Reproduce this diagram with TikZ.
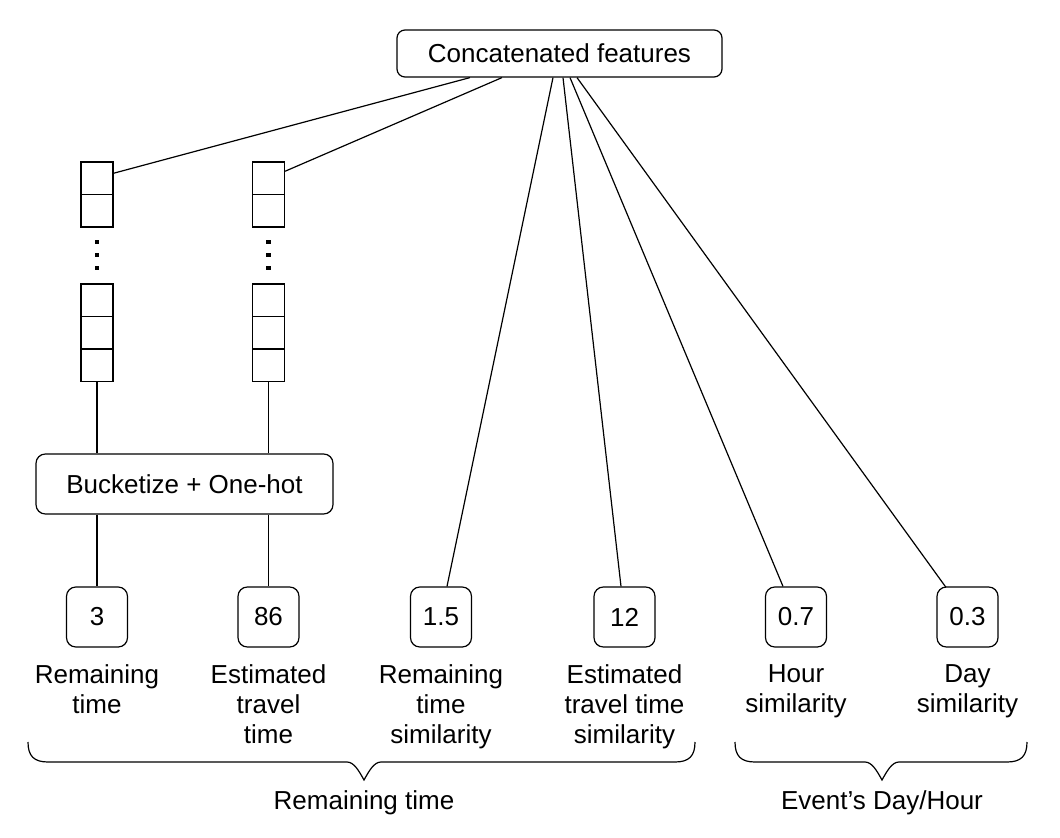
\documentclass[tikz,border=0pt]{standalone}
\usepackage{fontspec}
\setmainfont{Liberation Sans}
\usetikzlibrary{calc}
\newcommand\lblfont{\fontsize{19.5}{22.5}\selectfont}
\begin{document}
\begin{tikzpicture}[x=0.75pt,y=-0.75pt,line width=0.9pt,
  rbox/.style={draw, rounded corners=7pt, inner sep=0pt, font=\lblfont},
  valbox/.style={rbox, minimum width=45.75pt, minimum height=45pt},
  cell/.style={draw, inner sep=0pt, minimum width=24pt, minimum height=24.4pt},
  lab/.style={anchor=north, align=center, inner sep=0pt, font=\lblfont},
  dot/.style={fill=black}]
\useasboundingbox (0,0) rectangle (1060,838);

% top box
\node[rbox, rounded corners=6pt, minimum width=243.75pt, minimum height=35.25pt] (top) at (559.5,53.5) {Concatenated features};

% vectors column 1
\node[cell] (a1) at (97,178.25) {};
\node[cell] (a2) at (97,210.75) {};
\node[cell] (a3) at (97,300.25) {};
\node[cell] (a4) at (97,332.75) {};
\node[cell] (a5) at (97,365.25) {};
% vectors column 2
\node[cell] (b1) at (268.5,178.25) {};
\node[cell] (b2) at (268.5,210.75) {};
\node[cell] (b3) at (268.5,300.25) {};
\node[cell] (b4) at (268.5,332.75) {};
\node[cell] (b5) at (268.5,365.25) {};
% dots
\foreach \yy in {242,255,268} {
  \fill[dot] (97-2.25,\yy-2.25) rectangle ++(4.5,4.5);
  \fill[dot] (268.5-2.25,\yy-2.25) rectangle ++(4.5,4.5);
}

% bucketize
\node[rbox, minimum width=222.75pt, minimum height=45pt] (bk) at (184.5,484) {Bucketize + One-hot};

% value boxes
\node[valbox] (v3)  at (97,617)    {3};
\node[valbox] (v86) at (268.5,617) {86};
\node[valbox] (v15) at (441,617)   {1.5};
\node[valbox] (v12) at (624.5,617) {12};
\node[valbox] (v07) at (796,617)   {0.7};
\node[valbox] (v03) at (967.5,617) {0.3};

% labels
\node[lab] (l3)  at ($(v3.south)+(0,16)$)  {Remaining\\time};
\node[lab] (l86) at ($(v86.south)+(0,16)$) {Estimated\\travel\\time};
\node[lab] (l15) at ($(v15.south)+(0,16)$) {Remaining\\time\\similarity};
\node[lab] (l12) at ($(v12.south)+(0,16)$) {Estimated\\travel time\\similarity};
\node[lab] (l07) at ($(v07.south)+(0,16)$) {Hour\\similarity};
\node[lab] (l03) at ($(v03.south)+(0,16)$) {Day\\similarity};

% connectors
\draw ($(a1.east)+(0,-5)$) -- ($(top.south)+(-89.5,0)$);
\draw ($(b1.east)+(0,-7)$) -- ($(top.south)+(-57.5,0)$);
\draw (a5.south) -- (a5.south |- bk.north);
\draw (b5.south) -- (b5.south |- bk.north);
\draw (v3.north |- bk.south) -- (v3.north);
\draw (v86.north |- bk.south) -- (v86.north);
\draw ($(top.south)+(-6.5,0)$) -- ($(v15.north)+(6,0)$);
\draw ($(top.south)+(3.5,0)$) -- ($(v12.north)+(-3.5,0)$);
\draw ($(top.south)+(10.5,0)$) -- ($(v07.north)+(-13,0)$);
\draw ($(top.south)+(17.5,0)$) -- ($(v03.north)+(-21.5,1)$);

% braces
\coordinate (tip1) at (364,780);
\coordinate (tip2) at (882,780);
\draw (28,742) .. controls (28,756) and (34,762) .. (48,762) -- ($(tip1)+(-17,-18)$)
  .. controls ($(tip1)+(-10,-18)$) and ($(tip1)+(-5,-9)$) .. (tip1)
  .. controls ($(tip1)+(5,-9)$) and ($(tip1)+(10,-18)$) .. ($(tip1)+(17,-18)$)
  -- (675,762) .. controls (689,762) and (695,756) .. (695,742);
\draw (735,742) .. controls (735,756) and (741,762) .. (755,762) -- ($(tip2)+(-17,-18)$)
  .. controls ($(tip2)+(-10,-18)$) and ($(tip2)+(-5,-9)$) .. (tip2)
  .. controls ($(tip2)+(5,-9)$) and ($(tip2)+(10,-18)$) .. ($(tip2)+(17,-18)$)
  -- (1007,762) .. controls (1021,762) and (1027,756) .. (1027,742);
\node[lab] (g1) at ($(tip1)+(0,10)$) {Remaining time};
\node[lab] (g2) at ($(tip2)+(0,10)$) {Event’s Day/Hour};
\end{tikzpicture}
\end{document}
